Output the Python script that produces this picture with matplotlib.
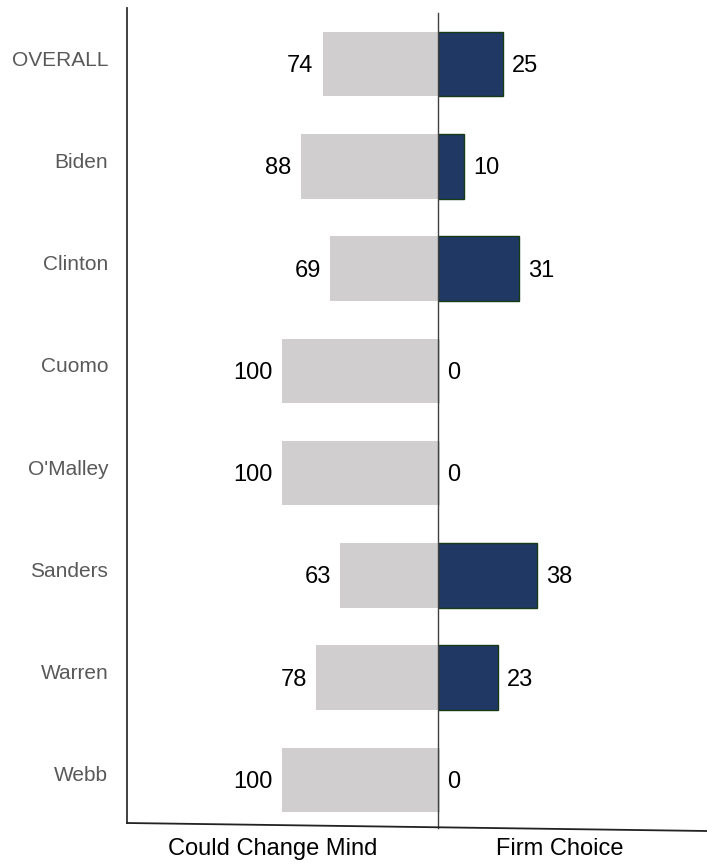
import matplotlib
matplotlib.use("Agg")
import matplotlib.pyplot as plt
from matplotlib.lines import Line2D
from matplotlib.transforms import ScaledTranslation

categories = ["OVERALL", "Biden", "Clinton", "Cuomo", "O'Malley", "Sanders", "Warren", "Webb"]
could_change = [74, 88, 69, 100, 100, 63, 78, 100]
firm_choice = [25, 10, 31, 0, 0, 38, 23, 0]
group_labels = ["Could Change Mind", "Firm Choice"]

plt.rcParams['font.family'] = ['Liberation Sans', 'DejaVu Sans']

W, H = 707, 865
fig = plt.figure(figsize=(W / 100, H / 100), dpi=100)
fig.patch.set_facecolor('white')

bottom = 1 - 831 / H
height = (831 - 13) / H
axL = fig.add_axes([127 / W, bottom, (438 - 127) / W, height])
axR = fig.add_axes([438 / W, bottom, (707 - 438) / W, height])

y = list(range(len(categories)))
bar_h = 0.63

axL.barh(y, could_change, height=bar_h, color='#D0CECF', edgecolor='none')
axR.barh(y, firm_choice, height=bar_h, color='#203864', edgecolor='#173a17', linewidth=1)

axL.set_xlim(199.4, 0)
axR.set_xlim(0, 103.5)
for ax in (axL, axR):
    ax.set_ylim(len(categories) - 0.5, -0.5)
    for s in ax.spines.values():
        s.set_visible(False)
    ax.set_xticks([])
    ax.patch.set_alpha(0)

axR.set_yticks([])
axL.set_yticks(y)
axL.set_yticklabels(categories, fontsize=15, color='#595959')
axL.tick_params(axis='y', length=0, pad=13.5)
up = ScaledTranslation(0, 6 / 100, fig.dpi_scale_trans)
for lbl in axL.get_yticklabels():
    lbl.set_transform(lbl.get_transform() + up)

for yi, v in zip(y, could_change):
    axL.annotate(str(v), xy=(v, yi), xytext=(-6.5, -1.5), textcoords='offset points',
                 ha='right', va='center', fontsize=17, color='black')
for yi, v in zip(y, firm_choice):
    axR.annotate(str(v), xy=(v, yi), xytext=(6.5, -1.5), textcoords='offset points',
                 ha='left', va='center', fontsize=17, color='black')

# axis lines (in figure pixel coordinates)
def px(x, yy):
    return x / W, 1 - yy / H

fig.add_artist(Line2D(*zip(px(127, 8), px(127, 823)), color='#333333', linewidth=1.3))
fig.add_artist(Line2D(*zip(px(438, 13), px(438, 828)), color='#404040', linewidth=1.0))
fig.add_artist(Line2D(*zip(px(127, 823), px(707, 831)), color='#222222', linewidth=1.3))

fig.text(273 / W, 1 - 849 / H, group_labels[0], ha='center', va='center', fontsize=17, color='black')
fig.text(560 / W, 1 - 849 / H, group_labels[1], ha='center', va='center', fontsize=17, color='black')

fig.savefig("out.png", dpi=100)
